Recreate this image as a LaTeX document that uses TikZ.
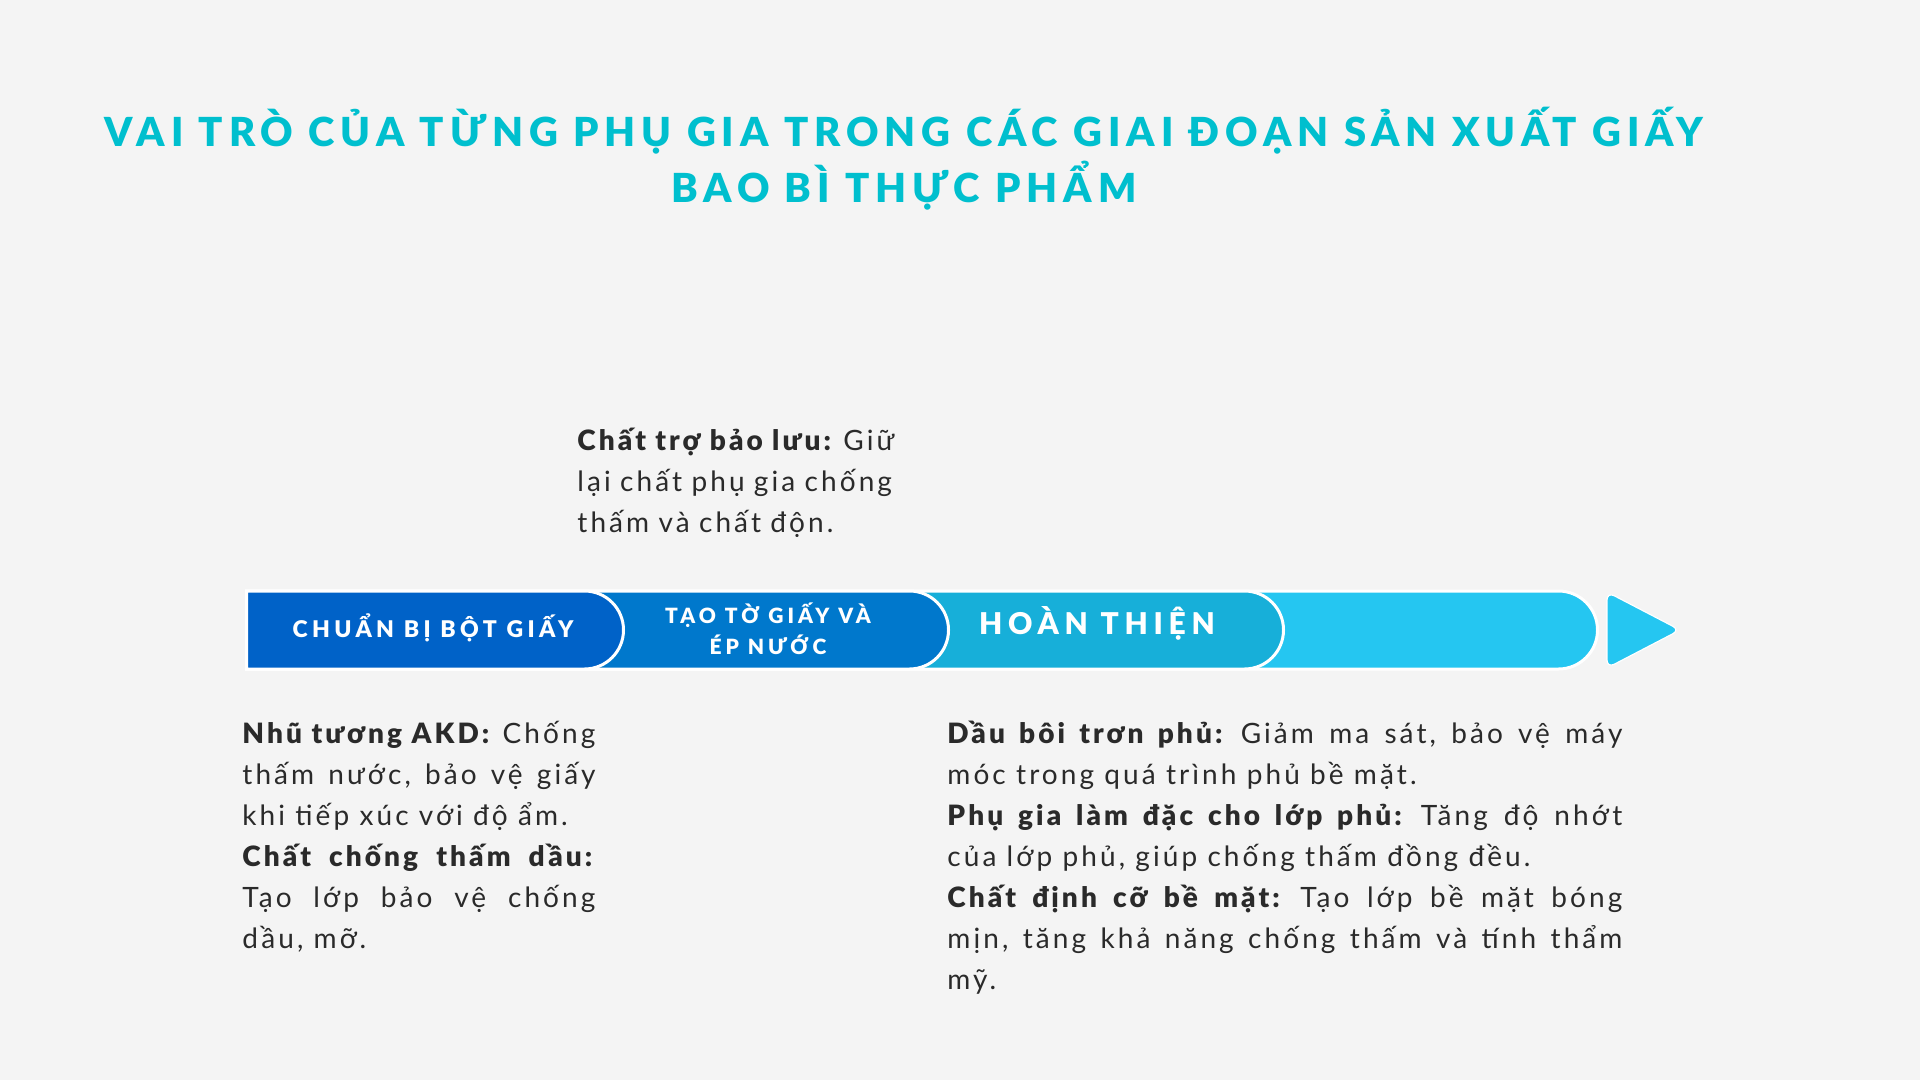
\documentclass[tikz,border=0pt]{standalone}
\usepackage{fontspec}
\newcommand\makefams[1]{%
	\setmainfont{Lato}[#1]%
	\newfontfamily\titlefont{Lato}[#1, LetterSpace=15]%
	\newfontfamily\stagefont{Lato}[#1, LetterSpace=19]%
	\newfontfamily\bodyfont{Lato}[#1, LetterSpace=11]%
}
\IfFontExistsTF{Lato Black}
	{\makefams{BoldFont={Lato Black}}}
	{\makefams{}}
\usetikzlibrary{positioning, shapes.misc}
\setlength{\parindent}{0pt}
\setlength{\parskip}{0pt}
\frenchspacing
\tolerance=9999
\hbadness=10000
\definecolor{paper}{HTML}{F4F4F4}
\definecolor{titlecol}{HTML}{00BFCE}
\definecolor{ink}{HTML}{2A2A2A}
\definecolor{stageA}{HTML}{0062C8}
\definecolor{stageB}{HTML}{0078CC}
\definecolor{stageC}{HTML}{17AFD9}
\definecolor{stageD}{HTML}{25C6F1}

\begin{document}
\begin{tikzpicture}[x=0.5pt, y=-0.5pt,
	stage/.style={rounded rectangle, rounded rectangle west arc=none, draw=white, line width=1.5pt, minimum height=39pt, inner sep=0pt, anchor=west},
	stagelabel/.style={text=white, align=center, inner sep=0pt},
	body/.style={text=ink, font=\bodyfont\fontsize{14}{20.5}\selectfont, inner sep=0pt, anchor=north west, align=justify}
	]
	\fill[paper] (0,0) rectangle (1920,1080);
	\useasboundingbox (0,0) rectangle (1920,1080);

	%Titulo
	\node[font=\titlefont\bfseries\fontsize{20}{28}\selectfont, text=titlecol, align=center] (title) at (904,159)
		{VAI TRÒ CỦA TỪNG PHỤ GIA TRONG CÁC GIAI ĐOẠN SẢN XUẤT GIẤY\\BAO BÌ THỰC PHẨM};

	%Barra de etapas (de tras para frente)
	\node[stage, fill=stageD, minimum width=675.5pt] (tail)   at (245,630) {};
	\node[stage, fill=stageC, minimum width=518.5pt] (finish) at (245,630) {};
	\node[stage, fill=stageB, minimum width=351pt]   (sheet)  at (245,630) {};
	\node[stage, fill=stageA, minimum width=188.5pt] (prep)   at (245,630) {};
	\filldraw[fill=stageD, draw=white, line width=0.6pt, rounded corners=4pt]
		(1607,592) -- (1680,630) -- (1607,668) -- cycle;

	\node[stagelabel, font=\stagefont\bfseries\fontsize{11.5}{13}\selectfont]     (lblPrep)   at (433,628)  {CHUẨN BỊ BỘT GIẤY};
	\node[stagelabel, font=\stagefont\bfseries\fontsize{10.5}{15.5}\selectfont]   (lblSheet)  at (768,629)  {TẠO TỜ GIẤY VÀ\\ÉP NƯỚC};
	\node[stagelabel, font=\stagefont\bfseries\fontsize{15}{18}\selectfont]       (lblFinish) at (1097,623) {HOÀN THIỆN};

	%Textos
	\node[body, text width=175pt, align=left] (retention) at (577,421)
		{\strut\textbf{Chất trợ bảo lưu:} Giữ\\lại chất phụ gia chống\\thấm và chất độn.};
	\node[body, text width=176.5pt] (akd) at (242,714)
		{\strut\textbf{Nhũ tương AKD:} Chống\linebreak thấm nước, bảo vệ giấy\linebreak khi tiếp xúc với độ ẩm.\par
		\textbf{Chất chống thấm dầu:}\linebreak Tạo lớp bảo vệ chống\linebreak dầu, mỡ.};
	\node[body, text width=337.5pt] (coating) at (947,714)
		{\strut\textbf{Dầu bôi trơn phủ:} Giảm ma sát, bảo vệ máy\linebreak móc trong quá trình phủ bề mặt.\par
		\textbf{Phụ gia làm đặc cho lớp phủ:} Tăng độ nhớt\linebreak của lớp phủ, giúp chống thấm đồng đều.\par
		\textbf{Chất định cỡ bề mặt:} Tạo lớp bề mặt bóng\linebreak mịn, tăng khả năng chống thấm và tính thẩm\linebreak mỹ.};
\end{tikzpicture}
\end{document}
